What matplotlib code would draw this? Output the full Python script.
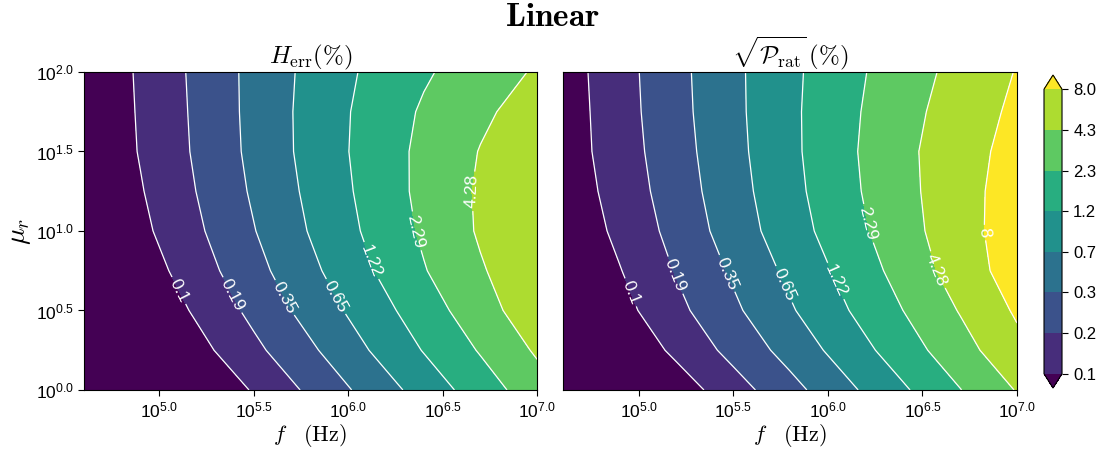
import numpy as np
import matplotlib
matplotlib.use("Agg")
import matplotlib.pyplot as plt
from matplotlib.colors import ListedColormap, BoundaryNorm
from matplotlib.ticker import FuncFormatter

plt.rcParams['font.family'] = ['Liberation Sans', 'DejaVu Sans']
plt.rcParams['mathtext.fontset'] = 'cm'
plt.rcParams['contour.negative_linestyle'] = 'solid'

# eixos (log10 de f em Hz e log10 de mu_r)
log_f = [4.6, 4.9, 5.2, 5.5, 5.8, 6.1, 6.4, 6.7, 7.0]
log_mu = [0.0, 0.25, 0.5, 0.75, 1.0, 1.25, 1.5, 1.75, 2.0]

# niveis dos contornos (%)
niveis = [0.1, 0.187, 0.3497, 0.654, 1.223, 2.287, 4.278, 8.0]

# log10 de H_err (%) - linhas = log_mu, colunas = log_f
log_herr = [
    [-1.880, -1.578, -1.276, -0.974, -0.673, -0.375, -0.073, 0.223, 0.513],
    [-1.682, -1.385, -1.088, -0.791, -0.500, -0.194, 0.101, 0.381, 0.666],
    [-1.548, -1.252, -0.957, -0.657, -0.352, -0.063, 0.229, 0.517, 0.802],
    [-1.450, -1.150, -0.849, -0.544, -0.244, 0.052, 0.343, 0.605, 0.834],
    [-1.362, -1.065, -0.769, -0.467, -0.166, 0.122, 0.400, 0.662, 0.860],
    [-1.315, -1.018, -0.721, -0.420, -0.126, 0.157, 0.429, 0.667, 0.850],
    [-1.272, -0.982, -0.690, -0.389, -0.097, 0.175, 0.424, 0.642, 0.822],
    [-1.261, -0.971, -0.679, -0.380, -0.096, 0.163, 0.392, 0.582, 0.752],
    [-1.252, -0.961, -0.669, -0.379, -0.112, 0.126, 0.326, 0.496, 0.660],
]

# log10 de sqrt(P_rat) (%)
log_prat = [
    [-1.745, -1.445, -1.145, -0.845, -0.546, -0.244, 0.053, 0.352, 0.647],
    [-1.533, -1.236, -0.940, -0.646, -0.358, -0.062, 0.234, 0.528, 0.825],
    [-1.392, -1.095, -0.798, -0.506, -0.214, 0.076, 0.362, 0.648, 0.939],
    [-1.315, -1.012, -0.710, -0.418, -0.122, 0.168, 0.463, 0.756, 1.036],
    [-1.226, -0.935, -0.638, -0.329, -0.033, 0.249, 0.530, 0.798, 1.047],
    [-1.180, -0.888, -0.592, -0.289, 0.006, 0.292, 0.556, 0.805, 1.029],
    [-1.149, -0.857, -0.563, -0.263, 0.028, 0.309, 0.570, 0.797, 0.995],
    [-1.145, -0.841, -0.542, -0.249, 0.034, 0.298, 0.544, 0.761, 0.957],
    [-1.133, -0.831, -0.532, -0.243, 0.028, 0.279, 0.507, 0.717, 0.916],
]

xticks = [5.0, 5.5, 6.0, 6.5, 7.0]
yticks = [0.0, 0.5, 1.0, 1.5, 2.0]

# onde ficam os rotulos dos contornos (log_f, log_mu)
rotulos_herr = [(5.11, 0.63), (5.39, 0.60), (5.67, 0.585), (5.93, 0.585),
                (6.09, 0.80), (6.33, 0.99), (6.63, 1.25)]
rotulos_prat = [(4.97, 0.62), (5.19, 0.72), (5.48, 0.74), (5.76, 0.66),
                (6.05, 0.69), (6.18, 1.04), (6.58, 0.755), (6.83, 0.99)]

cores = plt.cm.viridis(np.linspace(0, 1, len(niveis) + 1))
cmap = ListedColormap(cores[1:-1])
cmap.set_under(cores[0])
cmap.set_over(cores[-1])
niveis_log = np.log10(niveis)
norm = BoundaryNorm(niveis_log, cmap.N)


def potencia(v, pos):
    return r"$\mathregular{10^{%.1f}}$" % v


def fmt_contorno(v):
    return f"{10 ** v:.2f}".rstrip('0').rstrip('.')


def plotar_contorno(ax, z, titulo, rotulos):
    cs = ax.contourf(log_f, log_mu, z, levels=niveis_log, cmap=cmap, norm=norm, extend='both')
    cl = ax.contour(log_f, log_mu, z, levels=niveis_log, colors='white',
                    linewidths=0.9, linestyles='solid')
    ax.clabel(cl, fmt=fmt_contorno, manual=rotulos, inline=True, fontsize=12.5, inline_spacing=3)
    ax.set_xlim(4.6, 7.0)
    ax.set_ylim(0.0, 2.0)
    ax.set_xticks(xticks)
    ax.set_yticks(yticks)
    ax.xaxis.set_major_formatter(FuncFormatter(potencia))
    ax.yaxis.set_major_formatter(FuncFormatter(potencia))
    ax.tick_params(direction='out', length=4.5, width=0.8, labelsize=12.5, pad=3)
    ax.set_title(titulo, fontsize=18, pad=5)
    ax.set_xlabel(r"$f\quad(\mathrm{Hz})$", fontsize=16, labelpad=1)
    return cs


fig = plt.figure(figsize=(11.05, 4.58), dpi=100)
ax1 = fig.add_axes([0.0760, 0.1485, 0.4100, 0.6943])
ax2 = fig.add_axes([0.5095, 0.1485, 0.4109, 0.6943])
cax = fig.add_axes([0.9448, 0.1528, 0.0163, 0.6834])

plotar_contorno(ax1, log_herr, r"$H_{\rm err}(\%)$", rotulos_herr)
cs = plotar_contorno(ax2, log_prat, r"$\sqrt{\mathcal{P}_{\rm rat}}\,(\%)$", rotulos_prat)

ax1.set_ylabel(r"$\mu_r$", fontsize=20, labelpad=2)
ax2.tick_params(axis='y', left=False, labelleft=False)

cb = fig.colorbar(cs, cax=cax, ticks=niveis_log)
cb.ax.set_yticklabels([f"{v:.1f}" for v in niveis])
cb.ax.tick_params(direction='out', length=4.5, width=0.8, labelsize=12)
cb.outline.set_linewidth(0.8)

fig.text(0.4995, 0.961, r"$\mathbf{Linear}$", ha='center', va='center', fontsize=24)

fig.savefig("out.png", dpi=100)
